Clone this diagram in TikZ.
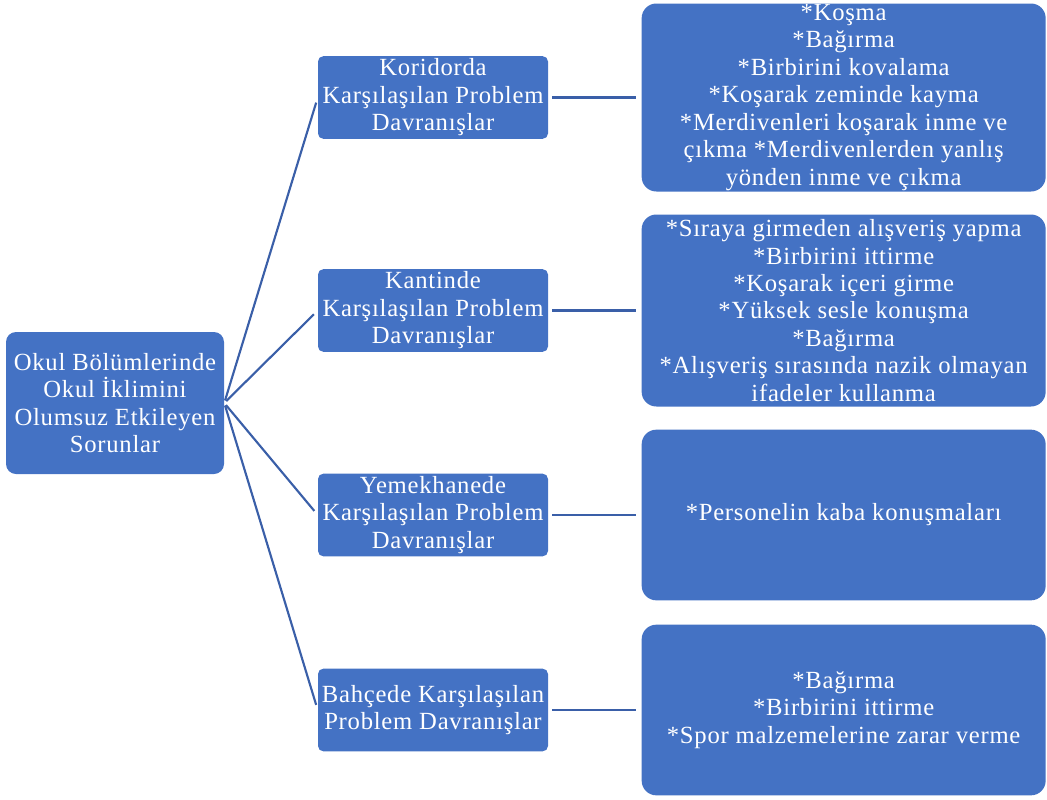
\documentclass[tikz,border=0pt]{standalone}
\usepackage{fontspec}
\setmainfont{Liberation Serif}[LetterSpace=3]
\usepackage{tikz}
\usepackage{xcolor}
\definecolor{okulblue}{RGB}{68,114,196}
\definecolor{okulline}{RGB}{58,95,168}

\tikzset{
  kutu/.style={fill=okulblue, text=white, align=center, inner sep=0pt,
    font=\fontsize{18.5}{20.6}\selectfont},
  anabox/.style={kutu, rounded corners=7.5pt, minimum width=163.5pt, minimum height=106.5pt},
  yerbox/.style={kutu, rounded corners=4pt, minimum width=172.5pt, minimum height=62pt},
  davbox/.style={kutu, rounded corners=11pt, minimum width=303pt},
  bag/.style={draw=okulline, line width=1.6pt}
}

\begin{document}
\begin{tikzpicture}[x=0.75pt, y=-0.75pt, node distance=308pt]
      \useasboundingbox (0,0) rectangle (1047,800);
      \node (okul) [anabox] at (115,403) {Okul Bölümlerinde\\Okul İklimini\\Olumsuz Etkileyen\\Sorunlar};

      \node (koridor) [yerbox] at (433,97.5) {Koridorda\\Karşılaşılan Problem\\Davranışlar};
      \node (kantin) [yerbox] at (433,310.5) {Kantinde\\Karşılaşılan Problem\\Davranışlar};
      \node (yemek) [yerbox] at (433,515) {Yemekhanede\\Karşılaşılan Problem\\Davranışlar};
      \node (bahce) [yerbox] at (433,710) {Bahçede Karşılaşılan\\Problem Davranışlar};

      \node (koridorlist) [davbox, minimum height=141pt, right of=koridor] {*Koşma\\*Bağırma\\*Birbirini kovalama\\*Koşarak zeminde kayma\\*Merdivenleri koşarak inme ve\\çıkma *Merdivenlerden yanlış\\yönden inme ve çıkma};
      \node (kantinlist) [davbox, minimum height=144pt, right of=kantin] {*Sıraya girmeden alışveriş yapma\\*Birbirini ittirme\\*Koşarak içeri girme\\*Yüksek sesle konuşma\\*Bağırma\\*Alışveriş sırasında nazik olmayan\\ifadeler kullanma};
      \node (yemeklist) [davbox, minimum height=128pt, right of=yemek] {*Personelin kaba konuşmaları};
      \node (bahcelist) [davbox, minimum height=128pt, right of=bahce] {*Bağırma\\*Birbirini ittirme\\*Spor malzemelerine zarar verme};

      \foreach \yer in {koridor,kantin,yemek,bahce} {
        \draw[bag, shorten <=2pt, shorten >=4pt] (okul.east) -- (\yer.west);
        \draw[bag, shorten <=3pt, shorten >=4pt] (\yer.east) -- (\yer list.west);
      }
    \end{tikzpicture}
\end{document}
